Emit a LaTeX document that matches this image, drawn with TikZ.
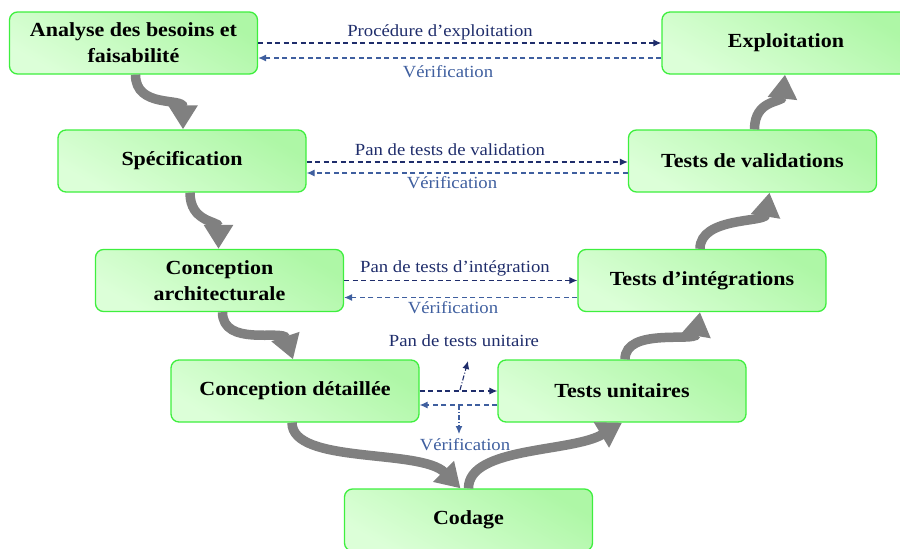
\documentclass[tikz,border=0pt]{standalone}
\usepackage{fontspec}
\setmainfont[FakeStretch=1.1]{Liberation Serif}
\usetikzlibrary{arrows.meta}
\definecolor{boxtop}{HTML}{DCFFD8}
\definecolor{boxbot}{HTML}{AEF7A6}
\definecolor{boxline}{HTML}{3EEF3E}
\definecolor{navy}{HTML}{1F2D6B}
\definecolor{bluev}{HTML}{3F5F9F}
\definecolor{flowgray}{HTML}{808080}
\tikzset{
  box/.style={draw=boxline, line width=1.3pt, rounded corners=8pt,
    left color=boxtop, right color=boxbot, shading angle=150,
    minimum width=248pt, minimum height=62pt, align=center,
    font=\fontsize{20}{26}\selectfont\bfseries, inner sep=2pt},
  fwd/.style={draw=navy, line width=1.1pt, dash pattern=on 5pt off 3.5pt, -{Latex[length=8pt,width=7pt]}},
  bwd/.style={draw=bluev, line width=1.1pt, dash pattern=on 5pt off 3.5pt, -{Latex[length=8pt,width=7pt]}},
  fwdlab/.style={text=navy, font=\fontsize{17}{20}\selectfont, inner sep=0pt},
  bwdlab/.style={text=bluev, font=\fontsize{17}{20}\selectfont, inner sep=0pt},
  small/.style={line width=1.1pt, dash pattern=on 5pt off 2pt on 1pt off 2pt, -{Latex[length=8pt,width=7pt]}},
  flow/.style={draw=flowgray, line width=9.5pt, -{Triangle[length=24pt,width=28pt]}},
}
\begin{document}
\begin{tikzpicture}[x=1pt,y=-1pt]
\useasboundingbox (0,0) rectangle (900,549);
% boxes
\node[box] (an) at (133.5,43) {Analyse des besoins et\\faisabilité};
\node[box] (ex) at (786,43) {Exploitation};
\node[box] (sp) at (182,161) {Spécification};
\node[box] (tv) at (752.5,161) {Tests de validations};
\node[box] (ca) at (219.5,280.5) {Conception\\architecturale};
\node[box] (ti) at (702,280.5) {Tests d’intégrations};
\node[box] (cd) at (295,391) {Conception détaillée};
\node[box] (tu) at (622,391) {Tests unitaires};
\node[box] (co) at (468.5,520) {Codage};

% dashed connectors
\draw[fwd] ([yshift=0pt]an.east) -- ([yshift=0pt]ex.west);
\draw[bwd] ([yshift=-15pt]ex.west) -- ([yshift=-15pt]an.east);
\draw[fwd] ([yshift=-1pt]sp.east) -- ([yshift=-1pt]tv.west);
\draw[bwd] ([yshift=-12pt]tv.west) -- ([yshift=-12pt]sp.east);
\draw[fwd] ([yshift=0pt]ca.east) -- ([yshift=0pt]ti.west);
\draw[bwd] ([yshift=-17pt]ti.west) -- ([yshift=-17pt]ca.east);
\draw[fwd] ([yshift=0pt]cd.east) -- ([yshift=0pt]tu.west);
\draw[bwd] ([yshift=-14pt]tu.west) -- ([yshift=-14pt]cd.east);

% labels
\node[fwdlab] (l1) at (440,32) {Procédure d’exploitation};
\node[bwdlab] (v1) at (448,72) {Vérification};
\node[fwdlab] (l2) at (450,150) {Pan de tests de validation};
\node[bwdlab] (v2) at (452,183) {Vérification};
\node[fwdlab] (l3) at (455,268) {Pan de tests d’intégration};
\node[bwdlab] (v3) at (453,308) {Vérification};
\node[fwdlab] (l4) at (464,341) {Pan de tests unitaire};
\node[bwdlab] (v4) at (465,445) {Vérification};

% small dash-dot arrows
\coordinate (s1) at (460,390);
\coordinate (e1) at (468,361);
\coordinate (s2) at (459,405);
\coordinate (e2) at (459,434);
\draw[small, navy] (s1) -- (e1);
\draw[small, bluev] (s2) -- (e2);

% gray flow arrows
\draw[flow] ([xshift=2pt]an.south) .. controls +(0,34) and +(0,-32) .. ([xshift=1pt]sp.north);
\draw[flow] ([xshift=8pt]sp.south) .. controls +(0,30) and +(0,-28) .. ([xshift=-1pt]ca.north);
\draw[flow] ([xshift=3pt]ca.south) .. controls +(0,35) and +(-10,-30) .. ([xshift=-2pt]cd.north);
\draw[flow] ([xshift=-3pt]cd.south) .. controls +(0,42) and +(-40,-40) .. ([xshift=-8pt]co.north);
\draw[flow] (co.north) .. controls +(0,-42) and +(-50,30) .. (tu.south);
\draw[flow] ([xshift=3pt]tu.north) .. controls +(0,-32) and +(-5,30) .. ([xshift=-2pt]ti.south);
\draw[flow] ([xshift=-2pt]ti.north) .. controls +(0,-32) and +(-5,30) .. ([xshift=17pt]tv.south);
\draw[flow] ([xshift=2pt]tv.north) .. controls +(0,-30) and +(-3,28) .. ([xshift=-1pt]ex.south);
\end{tikzpicture}
\end{document}
